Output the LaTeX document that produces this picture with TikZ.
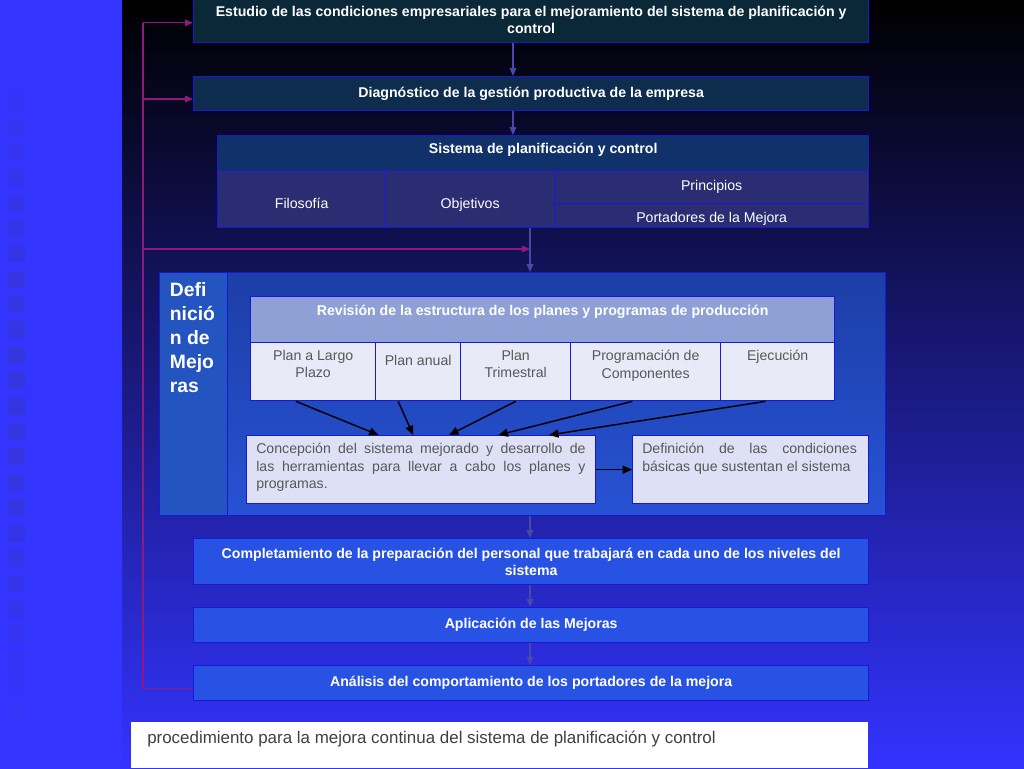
\documentclass[tikz,border=0pt]{standalone}
\usepackage{fontspec}
\setmainfont{Liberation Sans}
\usetikzlibrary{positioning, arrows.meta, calc}

\definecolor{stripTop}{HTML}{3434FF}
\definecolor{stripMid}{HTML}{111148}
\definecolor{bgBottom}{HTML}{3333FF}
\definecolor{squareBlue}{HTML}{3636CC}
\definecolor{edgeBlue}{HTML}{1818D8}
\definecolor{estudioFill}{HTML}{0B2838}
\definecolor{diagFill}{HTML}{0D2C4E}
\definecolor{sysHead}{HTML}{10316A}
\definecolor{sysCell}{HTML}{2B2D72}
\definecolor{dimArrow}{HTML}{4848A8}
\definecolor{loopLine}{HTML}{8E1A80}
\definecolor{defLeft}{HTML}{2354C0}
\definecolor{defTop}{HTML}{1C3EA6}
\definecolor{defBottom}{HTML}{2752D4}
\definecolor{revHead}{HTML}{8FA0D6}
\definecolor{revCell}{HTML}{E8EAF7}
\definecolor{conceptFill}{HTML}{DEE1F5}
\definecolor{stepFill}{HTML}{2752E3}
\definecolor{cellText}{HTML}{585858}
\definecolor{captionText}{HTML}{404040}

\tikzset{
  sz/.style 2 args={minimum width=#1*0.75pt, minimum height=#2*0.75pt},
  box/.style={draw=edgeBlue, line width=1pt, anchor=north west, inner sep=0pt, align=center, text=white},
  boldtxt/.style={font=\fontsize{10.6}{12.8}\selectfont\bfseries},
  plaintxt/.style={font=\fontsize{10.6}{13}\selectfont},
  celltxt/.style={plaintxt, text=cellText, anchor=north, align=center, inner sep=0pt},
  dimarrow/.style={draw=dimArrow, line width=1pt, -{Triangle[length=6pt,width=5pt]}},
  looparrow/.style={draw=loopLine, line width=0.9pt, -{Triangle[length=6pt,width=5pt]}},
  blackarrow/.style={draw=black, line width=1.1pt, -{Triangle[length=7pt,width=6pt]}},
}

\begin{document}
\begin{tikzpicture}[x=0.75pt, y=-0.75pt]
\useasboundingbox (0,0) rectangle (1024,768);
% background
\shade[top color=black, bottom color=bgBottom] (122,0) rectangle (1024,768);
\shade[top color=stripTop, middle color=stripMid, bottom color=stripTop] (0,0) rectangle (122,768);
\foreach \k in {0,...,27}
  \fill[squareBlue, opacity={0.6*sin(180*\k/27)}] (8,{42+25.4*\k}) rectangle +(17,17);

% upper steps
\node[box, sz={675}{45}, fill=estudioFill, boldtxt] (estudio) at (193,-3)
  {Estudio de las condiciones empresariales para el mejoramiento del sistema de planificación y\\control};
\node[box, sz={675}{34}, fill=diagFill, boldtxt] (diag) at (193,76)
  {Diagnóstico de la gestión productiva de la empresa};
\node[box, sz={651}{35}, fill=sysHead, boldtxt, text height=4pt, text depth=3pt] (syshead) at (217,135)
  {Sistema de planificación y control};
\node[box, sz={168}{57}, fill=sysCell, plaintxt, text height=14.4pt, text depth=0pt] (filo) at (217,170) {Filosofía};
\node[box, sz={169}{57}, fill=sysCell, plaintxt, text height=14.4pt, text depth=0pt] (obj) at (385,170) {Objetivos};
\node[box, sz={314}{33}, fill=sysCell, plaintxt] (princ) at (554,170) {Principios};
\node[box, sz={314}{24}, fill=sysCell, plaintxt, text height=9.8pt, text depth=0pt] (port) at (554,203)
  {Portadores de la Mejora};

% definicion de mejoras
\node[box, sz={68}{243}, fill=defLeft] (defl) at (159,272) {};
\node[box, sz={658}{243}, top color=defTop, bottom color=defBottom] (defr) at (227,272) {};
\node[anchor=north west, inner sep=0pt, text=white, align=left, font=\fontsize{14.5}{18}\selectfont\bfseries]
  (deftxt) at ([xshift=8pt, yshift=-8pt]defl.north west) {Defi\\nició\\n de\\Mejo\\ras};

\node[box, sz={584}{46}, fill=revHead] (revhead) at (250,296) {};
\node[boldtxt, text=white, anchor=north, inner sep=0pt] (revtxt) at ([yshift=-7pt]revhead.north)
  {Revisión de la estructura de los planes y programas de producción};
\node[box, sz={125}{58}, fill=revCell] (plp) at (250,342) {};
\node[box, sz={85}{58}, fill=revCell] (pan) at (375,342) {};
\node[box, sz={110}{58}, fill=revCell] (ptri) at (460,342) {};
\node[box, sz={150}{58}, fill=revCell] (pcomp) at (570,342) {};
\node[box, sz={114}{58}, fill=revCell] (ejec) at (720,342) {};
\node[celltxt] (plptxt) at ([yshift=-6pt]plp.north) {Plan a Largo\\Plazo};
\node[celltxt] (pantxt) at ([yshift=-9.5pt]pan.north) {Plan anual};
\node[celltxt] (ptritxt) at ([yshift=-6pt]ptri.north) {Plan\\Trimestral};
\node[celltxt] (pcomptxt) at ([yshift=-6pt]pcomp.north) {Programación de\\Componentes};
\node[celltxt] (ejectxt) at ([yshift=-6pt]ejec.north) {Ejecución};

\node[box, sz={349}{68}, fill=conceptFill] (concep) at (246,435) {};
\node[anchor=north west, inner sep=0pt, text width=247pt, align=justify, text=cellText, font=\fontsize{10.6}{13}\selectfont]
  (conceptxt) at ([xshift=7.5pt, yshift=-6pt]concep.north west)
  {Concepción del sistema mejorado y desarrollo de\linebreak las herramientas para llevar a cabo los planes y\linebreak programas.};
\node[box, sz={236}{68}, fill=conceptFill] (condic) at (632,435) {};
\node[anchor=north west, inner sep=0pt, text width=161pt, align=justify, text=cellText, font=\fontsize{10.6}{13}\selectfont]
  (condictxt) at ([xshift=7.5pt, yshift=-6pt]condic.north west)
  {Definición de las condiciones\linebreak básicas que sustentan el sistema};

% lower steps
\node[box, sz={675}{46}, fill=stepFill, boldtxt] (complet) at (193,538)
  {Completamiento de la preparación del personal que trabajará en cada uno de los niveles del\\sistema};
\node[box, sz={675}{35}, fill=stepFill, boldtxt] (aplic) at (193,607) {Aplicación de las Mejoras};
\node[box, sz={675}{35}, fill=stepFill, boldtxt] (analis) at (193,665)
  {Análisis del comportamiento de los portadores de la mejora};

\node[anchor=north west, fill=white, sz={737}{46}, inner sep=0pt] (caption) at (131,722) {};
\node[anchor=west, inner sep=0pt, text=captionText, font=\fontsize{12.7}{15}\selectfont]
  (captxt) at ([xshift=12pt, yshift=-12.75pt]caption.north west)
  {procedimiento para la mejora continua del sistema de planificación y control};

% connectors
\coordinate (axA) at (513,0);
\coordinate (axB) at (530,0);
\coordinate (loopX) at (143,0);
\coordinate (loopEnd) at (530,249);

\draw[dimarrow] (estudio.south -| axA) -- (diag.north -| axA);
\draw[dimarrow] (diag.south -| axA) -- (syshead.north -| axA);
\draw[dimarrow] (obj.south -| axB) -- (defr.north -| axB);
\draw[dimarrow] (defr.south -| axB) -- (complet.north -| axB);
\draw[dimarrow] (complet.south -| axB) -- (aplic.north -| axB);
\draw[dimarrow] (aplic.south -| axB) -- (analis.north -| axB);

\draw[draw=loopLine, line width=0.9pt] ([yshift=-4pt]analis.west) -- ([yshift=-4pt]analis.west -| loopX)
  -- ([yshift=-2pt]estudio.west -| loopX);
\draw[looparrow] ([yshift=-2pt]estudio.west -| loopX) -- ([yshift=-2pt]estudio.west);
\draw[looparrow] ([yshift=-4pt]diag.west -| loopX) -- ([yshift=-4pt]diag.west);
\draw[looparrow] (loopEnd -| loopX) -- (loopEnd);

\draw[blackarrow] ([xshift=-13pt]plp.south) -- ([xshift=-32pt]concep.north);
\draw[blackarrow] ([xshift=-15pt]pan.south) -- ([xshift=-6pt]concep.north);
\draw[blackarrow] (ptri.south) -- ([xshift=21pt]concep.north);
\draw[blackarrow] ([xshift=-10pt]pcomp.south) -- ([xshift=58pt]concep.north);
\draw[blackarrow] ([xshift=-9pt]ejec.south) -- ([xshift=96pt]concep.north);
\draw[blackarrow] (concep.east) -- (condic.west);
\end{tikzpicture}
\end{document}
